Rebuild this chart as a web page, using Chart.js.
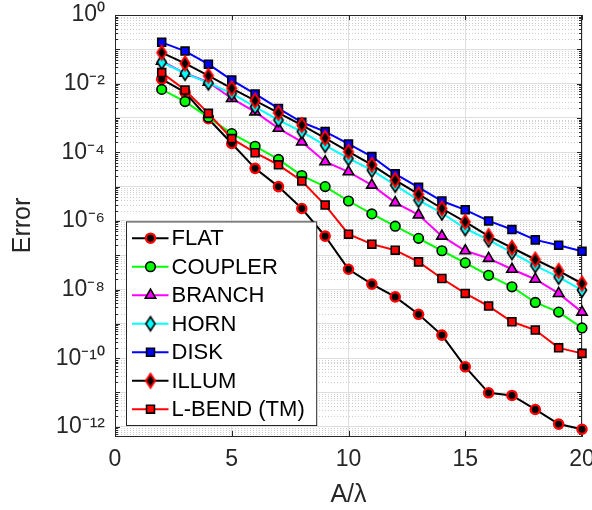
<!DOCTYPE html>
<html>
<head>
<meta charset="utf-8">
<script src="https://cdn.jsdelivr.net/npm/chart.js@4.4.1/dist/chart.umd.min.js"></script>
<style>
html, body { margin: 0; padding: 0; background: #ffffff; }
#wrap { width: 592px; height: 510px; position: relative; }
</style>
</head>
<body>
<div id="wrap"><canvas id="c" width="592" height="510"></canvas></div>
<script>
// ---------------- data ----------------
const xValues = [2, 3, 4, 5, 6, 7, 8, 9, 10, 11, 12, 13, 14, 15, 16, 17, 18, 19, 20];

const flatErr    = [0.0135, 0.0056, 9.5e-4, 1.8e-4, 3.4e-5, 1.0e-5, 2.3e-6, 3.6e-7, 3.9e-8, 1.44e-8, 6.1e-9, 1.9e-9, 4.7e-10, 5.6e-11, 9.8e-12, 8.2e-12, 3.2e-12, 1.2e-12, 8.5e-13];
const couplerErr = [0.0068, 0.0030, 1.04e-3, 3.5e-4, 1.5e-4, 6.2e-5, 2.1e-5, 1.0e-5, 3.8e-6, 1.6e-6, 7.0e-7, 3.1e-7, 1.35e-7, 6.0e-8, 2.6e-8, 1.2e-8, 4.2e-9, 2.2e-9, 7.6e-10];
const branchErr  = [0.045, 0.020, 0.011, 0.0037, 0.0015, 5.0e-4, 2.0e-4, 5.3e-5, 2.7e-5, 1.1e-5, 3.4e-6, 1.5e-6, 3.6e-7, 1.35e-7, 8.1e-8, 3.9e-8, 2.0e-8, 7.7e-9, 2.2e-9];
const hornErr    = [0.042, 0.020, 0.0105, 0.0052, 0.0021, 8.7e-4, 4.0e-4, 1.6e-4, 6.6e-5, 3.0e-5, 1.1e-5, 4.0e-6, 1.7e-6, 6.0e-7, 2.8e-7, 1.2e-7, 5.0e-8, 2.3e-8, 9.6e-9];
const diskErr    = [0.16, 0.089, 0.037, 0.0127, 0.0050, 0.0019, 7.5e-4, 4.0e-4, 1.75e-4, 7.5e-5, 2.35e-5, 9.5e-6, 3.8e-6, 2.1e-6, 1.0e-6, 5.6e-7, 2.8e-7, 1.96e-7, 1.3e-7];
const illumErr   = [0.080, 0.039, 0.017, 0.0073, 0.0032, 0.0014, 6.2e-4, 2.6e-4, 1.04e-4, 4.3e-5, 1.55e-5, 6.0e-6, 2.3e-6, 9.4e-7, 3.6e-7, 1.65e-7, 7.5e-8, 3.5e-8, 1.5e-8];
const lbendErr   = [0.021, 0.0065, 1.36e-3, 2.5e-4, 9.7e-5, 4.3e-5, 1.45e-5, 2.9e-6, 4.1e-7, 2.1e-7, 1.4e-7, 6.4e-8, 2.1e-8, 7.7e-9, 3.3e-9, 1.15e-9, 6.6e-10, 2.0e-10, 1.38e-10];

const seriesLabels = ['FLAT', 'COUPLER', 'BRANCH', 'HORN', 'DISK', 'ILLUM', 'L-BEND (TM)'];
const seriesValues = [flatErr, couplerErr, branchErr, hornErr, diskErr, illumErr, lbendErr];

const xTickValues = [0, 5, 10, 15, 20];
const xTickLabels = ['0', '5', '10', '15', '20'];
const yTickValues = [1e0, 1e-1, 1e-2, 1e-3, 1e-4, 1e-5, 1e-6, 1e-7, 1e-8, 1e-9, 1e-10, 1e-11, 1e-12];
const yTickLabels = ['10\u2070', '', '10\u207B\u00B2', '', '10\u207B\u2074', '', '10\u207B\u2076', '', '10\u207B\u2078', '', '10\u207B\u00B9\u2070', '', '10\u207B\u00B9\u00B2'];

// ---------------- styles ----------------
const FONT = '"Liberation Sans", Arial, Helvetica, sans-serif';
const AXIS_COLOR = '#262626';

function makeDiamond(face, edge, lw) {
  const cv = document.createElement('canvas');
  cv.width = 14; cv.height = 18;
  const g = cv.getContext('2d');
  g.beginPath();
  g.moveTo(7, 2); g.lineTo(11.6, 9); g.lineTo(7, 16); g.lineTo(2.4, 9); g.closePath();
  g.fillStyle = face; g.fill();
  g.lineWidth = lw; g.strokeStyle = edge; g.lineJoin = 'miter'; g.stroke();
  return cv;
}

const seriesStyles = [
  { line: '#000000', face: '#000000', edge: '#ff0000', style: 'circle',   radius: 4.6, bw: 2.4 },
  { line: '#00ff00', face: '#00ff00', edge: '#000000', style: 'circle',   radius: 4.8, bw: 1.6 },
  { line: '#ff00ff', face: '#ff00ff', edge: '#000000', style: 'triangle', radius: 6.0, bw: 1.6 },
  { line: '#00ffff', face: '#00ffff', edge: '#000000', style: makeDiamond('#00ffff', '#000000', 1.6), radius: 6, bw: 1.6 },
  { line: '#0000ff', face: '#0000ff', edge: '#000000', style: 'rect',     radius: 5.6, bw: 1.6 },
  { line: '#000000', face: '#000000', edge: '#ff0000', style: makeDiamond('#000000', '#ff0000', 2.0), radius: 6, bw: 2.0 },
  { line: '#ff0000', face: '#ff0000', edge: '#000000', style: 'rect',     radius: 5.6, bw: 1.6 }
];

const n = seriesLabels.length;
const datasets = seriesLabels.map((label, i) => {
  const st = seriesStyles[i];
  return {
    label: label,
    data: xValues.map((x, j) => ({ x: x, y: seriesValues[i][j] })),
    borderColor: st.line,
    backgroundColor: st.face,
    borderWidth: 2,
    pointStyle: st.style,
    pointRadius: st.radius,
    pointBorderWidth: st.bw,
    pointBackgroundColor: st.face,
    pointBorderColor: st.edge,
    pointHoverRadius: st.radius,
    tension: 0,
    clip: false,
    order: n - i
  };
});

// ---------------- plugins ----------------
const matlabAxes = {
  id: 'matlabAxes',
  beforeDatasetsDraw(chart) {
    const { ctx, chartArea: a, scales: { x, y } } = chart;
    ctx.save();
    // minor dotted grid for log axis
    ctx.lineWidth = 1;
    ctx.strokeStyle = '#cfcfcf';
    ctx.setLineDash([1, 2]);
    const minors = [];
    for (let e = -13; e < 0; e++) {
      for (let k = 2; k <= 9; k++) {
        const v = k * Math.pow(10, e);
        if (v <= y.min || v >= y.max) continue;
        minors.push(Math.round(y.getPixelForValue(v)) + 0.5);
      }
    }
    minors.forEach(py => {
      ctx.beginPath(); ctx.moveTo(a.left, py); ctx.lineTo(a.right, py); ctx.stroke();
    });
    ctx.setLineDash([]);
    // box (top and right)
    ctx.strokeStyle = AXIS_COLOR;
    ctx.lineWidth = 1;
    ctx.beginPath();
    ctx.moveTo(a.left, Math.round(a.top) + 0.5);
    ctx.lineTo(a.right, Math.round(a.top) + 0.5);
    ctx.moveTo(Math.round(a.right) - 0.5, a.top);
    ctx.lineTo(Math.round(a.right) - 0.5, a.bottom);
    ctx.stroke();
    // inward ticks
    ctx.beginPath();
    xTickValues.forEach(v => {
      const px = Math.round(x.getPixelForValue(v)) + 0.5;
      ctx.moveTo(px, a.bottom); ctx.lineTo(px, a.bottom - 5);
      ctx.moveTo(px, a.top); ctx.lineTo(px, a.top + 5);
    });
    yTickValues.forEach(v => {
      const py = Math.round(y.getPixelForValue(v)) + 0.5;
      ctx.moveTo(a.left, py); ctx.lineTo(a.left + 5, py);
      ctx.moveTo(a.right, py); ctx.lineTo(a.right - 5, py);
    });
    minors.forEach(py => {
      ctx.moveTo(a.left, py); ctx.lineTo(a.left + 3, py);
      ctx.moveTo(a.right, py); ctx.lineTo(a.right - 3, py);
    });
    ctx.stroke();
    ctx.restore();
  }
};

function drawMarker(ctx, ds, cx, cy) {
  const style = ds.pointStyle;
  if (typeof style === 'object') {
    ctx.drawImage(style, cx - style.width / 2, cy - style.height / 2);
    return;
  }
  ctx.save();
  ctx.fillStyle = ds.pointBackgroundColor;
  ctx.strokeStyle = ds.pointBorderColor;
  ctx.lineWidth = ds.pointBorderWidth;
  Chart.helpers.drawPoint(ctx, { pointStyle: style, radius: ds.pointRadius, rotation: 0, borderWidth: ds.pointBorderWidth }, cx, cy);
  ctx.restore();
}

const boxLegend = {
  id: 'boxLegend',
  afterDraw(chart) {
    const { ctx, chartArea: a } = chart;
    const dsets = chart.data.datasets;
    const fontSize = 22;
    ctx.save();
    ctx.font = fontSize + 'px ' + FONT;
    let maxW = 0;
    dsets.forEach(d => { maxW = Math.max(maxW, ctx.measureText(d.label).width); });
    const rowH = 28.5, padV = 16.3;
    const boxW = 45 + maxW + 12;
    const boxH = padV * 2 + rowH * (dsets.length - 1);
    const left = Math.round(a.left + 11) + 0.5;
    const bottom = Math.round(a.bottom - 11) + 0.5;
    const top = bottom - boxH;
    ctx.fillStyle = '#ffffff';
    ctx.fillRect(left, top, boxW, boxH);
    ctx.strokeStyle = AXIS_COLOR;
    ctx.lineWidth = 1;
    ctx.strokeRect(left, top, boxW, boxH);
    dsets.forEach((d, i) => {
      const cy = top + padV + i * rowH;
      ctx.strokeStyle = d.borderColor;
      ctx.lineWidth = d.borderWidth;
      ctx.beginPath();
      ctx.moveTo(left + 5.5, cy); ctx.lineTo(left + 42, cy);
      ctx.stroke();
      drawMarker(ctx, d, left + 24, cy);
      ctx.fillStyle = '#000000';
      ctx.textAlign = 'left';
      ctx.textBaseline = 'middle';
      ctx.fillText(d.label, left + 45, cy + 1);
    });
    ctx.restore();
  }
};

// ---------------- chart ----------------
Chart.defaults.font.family = FONT;
Chart.defaults.color = AXIS_COLOR;

new Chart(document.getElementById('c'), {
  type: 'line',
  data: { datasets: datasets },
  options: {
    responsive: false,
    animation: false,
    devicePixelRatio: 1,
    layout: { padding: { left: 0, right: 10, top: 15, bottom: 0 } },
    plugins: {
      legend: { display: false },
      tooltip: { enabled: false }
    },
    scales: {
      x: {
        type: 'linear',
        min: 0, max: 20,
        afterBuildTicks: s => { s.ticks = xTickValues.map(v => ({ value: v })); },
        ticks: {
          autoSkip: false, maxRotation: 0, padding: 10,
          font: { size: 23 }, color: AXIS_COLOR,
          callback: (v, i) => xTickLabels[i]
        },
        grid: { color: '#dedede', lineWidth: 1, drawTicks: false },
        border: { color: AXIS_COLOR, width: 1 },
        title: { display: true, text: 'A/λ', font: { size: 25 }, color: AXIS_COLOR, padding: { top: 0, bottom: 0 } },
        afterFit: s => { s.height = 74; s.paddingLeft = 0; s.paddingRight = 0; }
      },
      y: {
        type: 'logarithmic',
        min: 5.4e-13, max: 1,
        afterBuildTicks: s => { s.ticks = yTickValues.map(v => ({ value: v })); },
        ticks: {
          autoSkip: false, padding: 10,
          font: { size: 23 }, color: AXIS_COLOR,
          callback: (v, i) => yTickLabels[i]
        },
        grid: { color: '#dedede', lineWidth: 1, drawTicks: false },
        border: { color: AXIS_COLOR, width: 1 },
        title: { display: true, text: 'Error', font: { size: 25 }, color: AXIS_COLOR, padding: { top: 8, bottom: 0 } },
        afterFit: s => { s.width = 115; s.paddingTop = 0; s.paddingBottom = 0; }
      }
    }
  },
  plugins: [matlabAxes, boxLegend]
});
</script>
</body>
</html>
